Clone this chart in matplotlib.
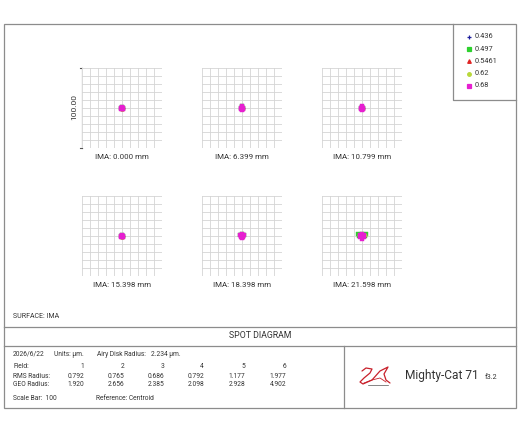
import matplotlib.pyplot as plt
from matplotlib.patches import Rectangle

plt.rcParams['font.family'] = ['Roboto', 'DejaVu Sans']

W, H = 520, 433

# ---- data ----
wavelengths = ['0.436', '0.497', '0.5461', '0.62', '0.68']
wl_colors = ['#1c1c9c', '#2ed12e', '#e02424', '#b8d83a', '#e61fd0']
wl_markers = ['+', 's', '^', 'o', 's']

ima_labels = ['IMA: 0.000 mm', 'IMA: 6.399 mm', 'IMA: 10.799 mm',
              'IMA: 15.398 mm', 'IMA: 18.398 mm', 'IMA: 21.598 mm']
fields = ['1', '2', '3', '4', '5', '6']
rms_radius = ['0.792', '0.765', '0.686', '0.792', '1.177', '1.977']
geo_radius = ['1.920', '2.656', '2.385', '2.098', '2.928', '4.902']

# ray intercepts (um) per field, one list per wavelength
spot_x_f1 = [[-0.8, 0.8, 0.0], [-1.2, 1.2, 0.0, 0.0], [-1.0, 1.0, 0.0], [-1.0, 1.0, 0.0], [-1.6, 0.0, 1.6, -1.0, 1.0, 0.0]]
spot_y_f1 = [[0.0, 0.0, 0.8], [0.0, 0.0, 1.2, -1.2], [0.5, 0.5, -0.8], [0.0, 0.0, 1.0], [0.0, 1.6, 0.0, -1.3, -1.3, 0.0]]
spot_x_f2 = [[-0.8, 0.8, 0.0], [-1.4, 1.4, 0.0, 0.0], [-1.0, 1.0, 0.0], [-1.0, 1.0, 0.0], [-1.6, 0.0, 1.6, -1.2, 1.2, 0.0]]
spot_y_f2 = [[0.5, 0.5, -0.5], [0.5, 0.5, 2.0, -1.5], [0.5, 0.5, -1.0], [0.0, 0.0, 1.5], [0.3, 2.2, 0.3, -1.6, -1.6, -2.4]]
spot_x_f3 = [[-0.8, 0.8, 0.0], [-1.3, 1.3, 0.0, 0.0], [-1.0, 1.0, 0.0], [-1.0, 1.0, 0.0], [-1.5, 0.0, 1.5, -1.1, 1.1, 0.0]]
spot_y_f3 = [[0.5, 0.5, -0.5], [0.5, 0.5, 1.8, -1.5], [0.5, 0.5, -1.0], [0.0, 0.0, 1.3], [0.3, 2.0, 0.3, -1.5, -1.5, -2.2]]
spot_x_f4 = [[-0.8, 0.8, 0.0], [-1.2, 1.2, 0.0, 0.0], [-1.0, 1.0, 0.0], [-1.0, 1.0, 0.0], [-1.6, 0.0, 1.6, -1.2, 1.2, 0.0]]
spot_y_f4 = [[0.3, 0.3, -0.5], [0.5, 0.5, 1.6, -1.2], [0.5, 0.5, -0.8], [0.0, 0.0, 1.2], [0.3, 1.8, 0.3, -1.4, -1.4, -0.3]]
spot_x_f5 = [[-1.2, 1.2, 0.0], [-2.0, 2.0, 0.0, 0.0], [-1.5, 1.5, 0.0], [-1.4, 1.4, 0.0], [-2.2, 0.0, 2.2, -1.6, 1.6, 0.0]]
spot_y_f5 = [[0.8, 0.8, -0.5], [1.2, 1.2, 2.0, -1.0], [1.0, 1.0, -1.2], [0.5, 0.5, 1.5], [1.0, 2.2, 1.0, -1.4, -1.4, -2.4]]
spot_x_f6 = [[-2.5, 2.5, 0.0], [-4.6, 4.6, -3.5, 3.5, 0.0], [-3.0, 3.0, 0.0], [-3.2, 3.2, 0.0], [-2.8, 0.0, 2.8, -2.0, 2.0, 0.0, -1.2, 1.2]]
spot_y_f6 = [[1.5, 1.5, -0.5], [2.0, 2.0, 0.2, 0.2, 3.0], [1.5, 1.5, -1.5], [1.0, 1.0, 2.5], [1.2, 2.6, 1.2, -1.8, -1.8, -3.6, 0.0, 0.0]]

spots = [(spot_x_f1, spot_y_f1), (spot_x_f2, spot_y_f2), (spot_x_f3, spot_y_f3),
         (spot_x_f4, spot_y_f4), (spot_x_f5, spot_y_f5), (spot_x_f6, spot_y_f6)]

scale_bar = 100.0
frame_c = '#8c8c8c'
text_c = '#333333'

fig = plt.figure(figsize=(W / 100, H / 100), dpi=100)
ax = fig.add_axes([0, 0, 1, 1])
ax.set_xlim(0, W)
ax.set_ylim(H, 0)
ax.axis('off')


def px_axes(left, top, w, h):
    return fig.add_axes([left / W, 1 - (top + h) / H, w / W, h / H])


# frames
ax.add_patch(Rectangle((4, 24), 512, 384, fill=False, ec=frame_c, lw=0.9))
ax.plot([4, 516], [327, 327], color=frame_c, lw=0.9)
ax.plot([4, 516], [346, 346], color=frame_c, lw=0.9)
ax.plot([344, 344], [346, 408], color=frame_c, lw=0.9)
ax.plot([453, 453, 516], [24, 100, 100], color=frame_c, lw=0.9)

# legend
for i, (wl, c, m) in enumerate(zip(wavelengths, wl_colors, wl_markers)):
    y = 37 + i * 12.2
    ax.plot(469, y, marker=m, color=c, ms=2.6 if m != '+' else 3.5, mew=0.9, ls='none')
    ax.text(475, y, wl, fontsize=5.3, color=text_c, va='center', ha='left')

# spot panels
lefts = [82, 202, 322]
tops = [68, 196]
for k in range(6):
    left = lefts[k % 3]
    top = tops[k // 3]
    sa = px_axes(left, top, 80, 80)
    half = scale_bar / 2
    sa.set_xlim(-half, half)
    sa.set_ylim(-half, half)
    for g in range(11):
        v = -half + g * scale_bar / 10
        sa.axvline(v, color='#d4d4d4', lw=0.6)
        sa.axhline(v, color='#d4d4d4', lw=0.6)
    sx, sy = spots[k]
    for i, (c, m) in enumerate(zip(wl_colors, wl_markers)):
        sa.plot(sx[i], sy[i], ls='none', marker=m, color=c,
                ms=2.4 if m != '+' else 3.0, mew=0.6 if m == '+' else 0.3)
    for s in sa.spines.values():
        s.set_visible(False)
    sa.set_xticks([])
    sa.set_yticks([])
    ax.text(left + 40, top + 89, ima_labels[k], fontsize=5.7, color=text_c, ha='center', va='center')

# scale indicator on first panel
ax.plot([82, 82], [68, 148], color='#555555', lw=0.8)
ax.plot([80, 82], [68, 68], color='#555555', lw=0.8)
ax.plot([80, 82], [148, 148], color='#555555', lw=0.8)
ax.text(74, 107, f'{scale_bar:.2f}', fontsize=6, color=text_c, rotation=90, ha='center', va='center')

# text block
ax.text(13, 316, 'SURFACE: IMA', fontsize=5, color=text_c, va='center')
ax.text(260, 336, 'SPOT DIAGRAM', fontsize=6.3, color=text_c, ha='center', va='center')

ax.text(13, 354, '2026/6/22', fontsize=4.8, color=text_c, va='center')
ax.text(54, 354, 'Units: \u00b5m.', fontsize=4.8, color=text_c, va='center')
ax.text(97, 354, 'Airy Disk Radius:', fontsize=4.8, color=text_c, va='center')
ax.text(151, 354, '2.234 \u00b5m.', fontsize=4.8, color=text_c, va='center')

col_x = [84, 124, 164, 204, 245, 286]
rows = [('Field:', fields, 366), ('RMS Radius:', rms_radius, 376), ('GEO Radius:', geo_radius, 385)]
for name, vals, y in rows:
    ax.text(13, y, name, fontsize=4.8, color=text_c, va='center')
    for x, v in zip(col_x, vals):
        ax.text(x, y, v, fontsize=4.8, color=text_c, va='center', ha='right')

ax.text(13, 398, 'Scale Bar:  100', fontsize=4.8, color=text_c, va='center')
ax.text(96, 398, 'Reference: Centroid', fontsize=4.8, color=text_c, va='center')

# logo
red = '#c8202a'
ax.plot([362, 366, 372, 370, 364, 360, 363, 372, 380, 388, 384, 386, 390],
        [371, 368, 369, 373, 378, 382, 384, 380, 371, 367, 374, 380, 383],
        color=red, lw=0.9, solid_capstyle='round')
ax.plot([364, 372, 380, 386], [383, 380, 378, 382], color=red, lw=0.6)
ax.plot([368, 388], [384.5, 384.5], color='#555555', lw=0.5)
ax.text(405, 376, 'Mighty-Cat 71', fontsize=8.6, color=text_c, va='center', ha='left')
ax.text(485, 377.5, 'f3.2', fontsize=5.2, color=text_c, va='center', ha='left')

fig.savefig('out.png', dpi=100)
